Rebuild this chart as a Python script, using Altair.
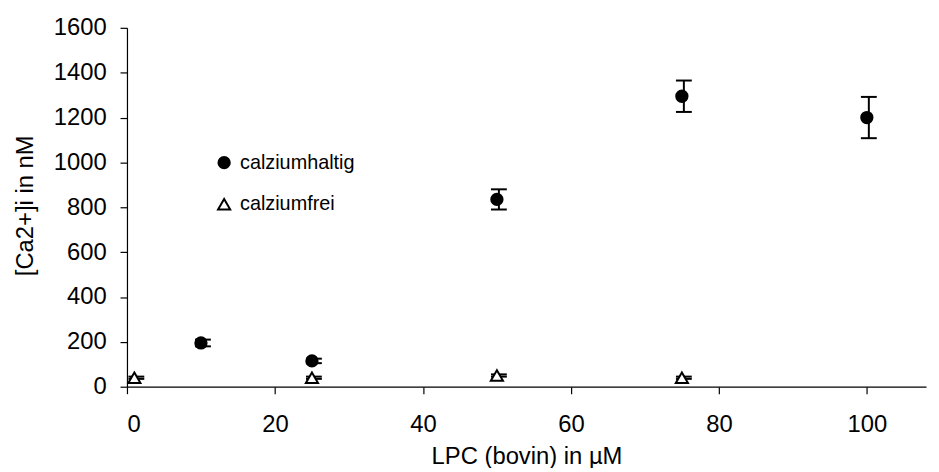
import altair as alt
import pandas as pd

# calziumhaltig (filled circles)
x_ca = [10, 25, 50, 75, 100]
y_ca = [195, 115, 835, 1295, 1200]
err_ca = [15, 10, 45, 70, 92]

# calziumfrei (open triangles)
x_free = [1, 25, 50, 75]
y_free = [40, 40, 50, 40]
err_free = [5, 5, 5, 5]

series_names = ["calziumhaltig", "calziumfrei"]
x_ticks = [0, 20, 40, 60, 80, 100]
y_ticks = [0, 200, 400, 600, 800, 1000, 1200, 1400, 1600]

rows = []
for x, y, e in zip(x_ca, y_ca, err_ca):
    rows.append({"x": x, "y": y, "err": e, "series": series_names[0]})
for x, y, e in zip(x_free, y_free, err_free):
    rows.append({"x": x, "y": y, "err": e, "series": series_names[1]})
df = pd.DataFrame(rows)

FONT = "Liberation Sans"

xscale = alt.Scale(domain=[0, 108], nice=False, zero=False)
yscale = alt.Scale(domain=[0, 1600], nice=False)

xaxis = alt.Axis(values=x_ticks, title="LPC (bovin) in µM", grid=False, format="d",
                 labelBaseline="alphabetic", labelPadding=38,
                 titleBaseline="alphabetic", titleY=77)
yaxis = alt.Axis(values=y_ticks, title="[Ca2+]i in nM", grid=False, format="d",
                 labelPadding=14, titleX=-95, titleY=179,
                 titleBaseline="alphabetic", titleAngle=-90)

base = alt.Chart(df).transform_calculate(
    lo="datum.y - datum.err", hi="datum.y + datum.err"
)

stems = base.mark_rule(color="black", strokeWidth=2, xOffset=2).encode(
    x=alt.X("x:Q", scale=xscale, axis=xaxis),
    y=alt.Y("lo:Q", scale=yscale, axis=yaxis),
    y2="hi:Q",
)
cap_lo = base.mark_rule(color="black", strokeWidth=2, xOffset=-6, x2Offset=10).encode(
    x=alt.X("x:Q", scale=xscale),
    x2="x:Q",
    y=alt.Y("lo:Q", scale=yscale),
)
cap_hi = base.mark_rule(color="black", strokeWidth=2, xOffset=-6, x2Offset=10).encode(
    x=alt.X("x:Q", scale=xscale),
    x2="x:Q",
    y=alt.Y("hi:Q", scale=yscale),
)

legend = alt.Legend(title=None, orient="none", legendX=88, legendY=126,
                    labelFontSize=20, labelFont=FONT,
                    symbolStrokeWidth=2, rowPadding=22, labelOffset=6,
                    padding=0, labelColor="black")

points = base.mark_point(opacity=1, strokeWidth=2).encode(
    x=alt.X("x:Q", scale=xscale),
    y=alt.Y("y:Q", scale=yscale),
    shape=alt.Shape("series:N", scale=alt.Scale(domain=series_names,
                                                 range=["circle", "triangle-up"]),
                    legend=legend),
    fill=alt.Fill("series:N", scale=alt.Scale(domain=series_names,
                                               range=["black", "white"]),
                  legend=legend),
    stroke=alt.Stroke("series:N", scale=alt.Scale(domain=series_names,
                                                   range=["black", "black"]),
                      legend=legend),
    size=alt.Size("series:N", scale=alt.Scale(domain=series_names,
                                               range=[130, 150]),
                  legend=legend),
)

chart = alt.layer(stems, cap_lo, cap_hi, points).properties(
    width=806, height=362,
    autosize=alt.AutoSizeParams(type="none"),
    padding={"left": 120, "top": 18, "right": 5, "bottom": 80},
).configure_view(stroke=None).configure_axis(
    labelFont=FONT, titleFont=FONT, labelFontSize=24, titleFontSize=24,
    labelColor="black", titleColor="black", titleFontWeight="normal",
    domainColor="black", tickColor="black", tickSize=7, domainWidth=1.2,
    tickWidth=1.2,
)

chart.save("out.html", embed_options={"renderer": "svg", "actions": False})
